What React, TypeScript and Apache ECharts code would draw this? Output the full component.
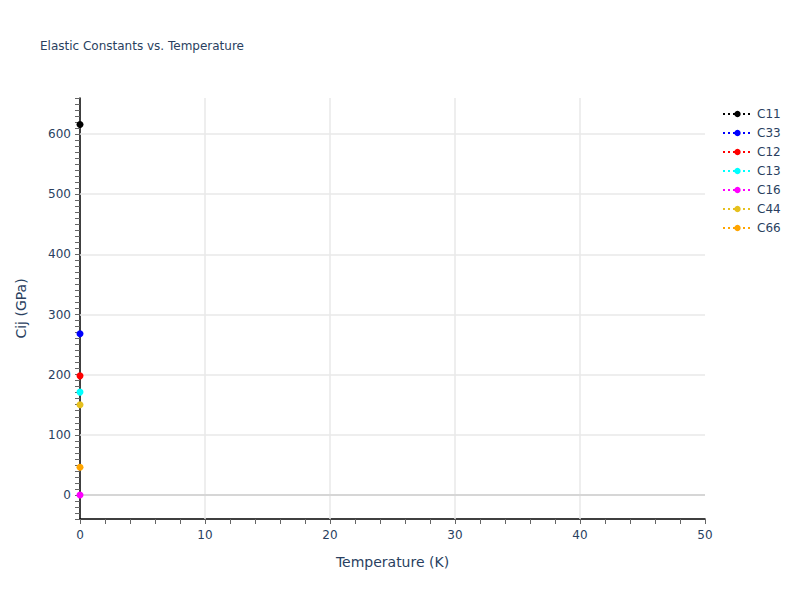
import { useEffect, useRef } from 'react';
import * as echarts from 'echarts';

// series names, colours and values (all measured at T = 0 K)
const seriesNames = ['C11', 'C33', 'C12', 'C13', 'C16', 'C44', 'C66'];
const seriesColors = ['#000000', '#0000ff', '#ff0000', '#00ffff', '#ff00ff', '#e6c01e', '#ffa500'];
const temperatures = [0];
const c11 = [616];
const c33 = [268];
const c12 = [198];
const c13 = [171];
const c16 = [0];
const c44 = [150];
const c66 = [46];
const seriesValues = [c11, c33, c12, c13, c16, c44, c66];

// grid lines
const yGridValues = [100, 200, 300, 400, 500, 600];
const xGridValues = [10, 20, 30, 40];

const FONT = '"DejaVu Sans", Verdana, sans-serif';
const TEXT = '#2a3f5f';

export default function App() {
  const chartRef = useRef<HTMLDivElement>(null);

  useEffect(() => {
    if (!chartRef.current) return;
    const chart = echarts.init(chartRef.current, null, { renderer: 'svg' });

    const dataSeries = seriesNames.map((name, i) => ({
      name,
      type: 'line' as const,
      data: temperatures.map((t, j) => [t, seriesValues[i][j]]),
      symbol: 'circle',
      symbolSize: 7,
      z: 5,
      itemStyle: { color: seriesColors[i] },
      lineStyle: { color: seriesColors[i], type: [2, 3] as number[], width: 2 },
    }));

    const option: echarts.EChartsOption = {
      animation: false,
      backgroundColor: '#fff',
      textStyle: { fontFamily: FONT },
      title: {
        text: 'Elastic Constants vs. Temperature',
        left: 35,
        top: 35,
        textStyle: { fontFamily: FONT, fontSize: 12, fontWeight: 'normal', color: TEXT },
      },
      legend: {
        data: seriesNames,
        orient: 'vertical',
        left: 717,
        top: 103,
        itemWidth: 29,
        itemHeight: 8,
        itemGap: 7,
        textStyle: { fontFamily: FONT, fontSize: 12, color: TEXT },
      },
      grid: { left: 80, right: 95, top: 98, bottom: 81 },
      xAxis: {
        type: 'value',
        min: 0,
        max: 50,
        interval: 10,
        name: 'Temperature (K)',
        nameLocation: 'middle',
        nameGap: 36,
        nameTextStyle: { fontFamily: FONT, fontSize: 14, color: TEXT },
        axisLine: { show: true, onZero: false, lineStyle: { color: '#000', width: 1.5 } },
        axisTick: { show: true, length: 5, lineStyle: { color: '#666' } },
        minorTick: { show: true, splitNumber: 5, length: 5, lineStyle: { color: '#666' } },
        axisLabel: { fontFamily: FONT, fontSize: 12, color: TEXT, margin: 10 },
        splitLine: { show: false },
      },
      yAxis: {
        type: 'value',
        min: -40,
        max: 660,
        interval: 20,
        name: 'Cij (GPa)',
        nameLocation: 'middle',
        nameGap: 52,
        nameTextStyle: { fontFamily: FONT, fontSize: 14, color: TEXT },
        axisLine: { show: true, onZero: false, lineStyle: { color: '#000', width: 1.5 } },
        axisTick: { show: true, length: 5, lineStyle: { color: '#666' } },
        minorTick: { show: true, splitNumber: 2, length: 5, lineStyle: { color: '#666' } },
        axisLabel: {
          fontFamily: FONT,
          fontSize: 12,
          color: TEXT,
          margin: 9,
          formatter: (v: number) => (v % 100 === 0 ? String(v) : ''),
        },
        splitLine: { show: false },
      },
      series: [
        {
          name: '__grid',
          type: 'line',
          data: [],
          silent: true,
          z: 1,
          markLine: {
            silent: true,
            symbol: 'none',
            label: { show: false },
            animation: false,
            data: [
              ...yGridValues.map((v) => ({ yAxis: v, lineStyle: { color: '#e8e8e8', width: 1.5, type: 'solid' as const } })),
              ...xGridValues.map((v) => ({ xAxis: v, lineStyle: { color: '#e8e8e8', width: 1.5, type: 'solid' as const } })),
              { yAxis: 0, lineStyle: { color: '#d6d6d6', width: 2, type: 'solid' as const } },
            ],
          },
        },
        ...dataSeries,
      ],
    };

    chart.setOption(option);
    return () => chart.dispose();
  }, []);

  return <div ref={chartRef} style={{ width: 800, height: 600, margin: -8 }} />;
}
